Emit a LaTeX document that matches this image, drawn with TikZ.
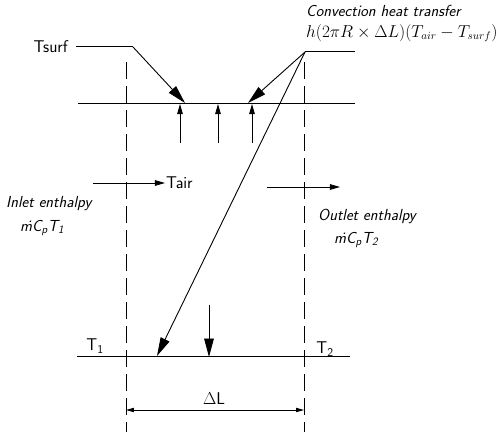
\documentclass[tikz,border=0pt]{standalone}
\usepackage{amsmath}
\usepackage{tikz}
\usetikzlibrary{arrows.meta,positioning,calc}
\tikzset{
  wall/.style={line width=1pt},
  bigarr/.style={-{Triangle[length=6.5mm,width=3.4mm]}, line width=0.9pt},
  smarr/.style={-{Triangle[length=3.6mm,width=2mm]}, line width=0.8pt},
  dimarr/.style={{Triangle[length=2.8mm,width=1.5mm]}-{Triangle[length=2.8mm,width=1.5mm]}, line width=0.8pt},
  guide/.style={dash pattern=on 17pt off 7pt, line width=0.8pt},
  lbl/.style={font=\sffamily\fontsize{17}{19}\selectfont, inner sep=1pt},
  ilbl/.style={font=\sffamily\itshape\fontsize{16}{18}\selectfont, inner sep=0pt},
}

\begin{document}
\begin{tikzpicture}[x=1pt, y=-1pt]
  \useasboundingbox (0,0) rectangle (496,435);

  % labels
  \node[lbl, anchor=east] (tsurf) at (69,47) {Tsurf};
  \node[lbl, anchor=west] (tair) at (165,183) {Tair};
  \node[lbl] (t1) at (95,346) {T\textsubscript{1}};
  \node[lbl] (t2) at (325,349) {T\textsubscript{2}};
  \node[lbl] (dl) at (214,399) {$\Delta$L};
  \node[ilbl, anchor=west] (conv) at (306,11) {Convection heat transfer};
  \node[ilbl, anchor=west] (convf) at (306,33) {$h(2\pi R\times\Delta L)(T_{air}-T_{surf})$};
  \node[ilbl, anchor=west] (inlet) at (6,204) {Inlet enthalpy};
  \node[ilbl, anchor=west] (inletf) at (20,228) {\.{m}C\textsubscript{p}T\textsubscript{1}};
  \node[ilbl, anchor=west] (outlet) at (318,216) {Outlet enthalpy};
  \node[ilbl, anchor=west] (outletf) at (334,240) {\.{m}C\textsubscript{p}T\textsubscript{2}};

  % points
  \coordinate (s1) at (133,47);
  \coordinate (s2) at (185,103);
  \coordinate (c0) at (355,52);
  \coordinate (c1) at (305,52);
  \coordinate (c2) at (248,103);
  \coordinate (c3) at (157,356);
  \coordinate (wl) at (78,104);
  \coordinate (wr) at (355,104);
  \coordinate (bl) at (77,357);
  \coordinate (br) at (350,357);
  \coordinate (gl) at (126,62);
  \coordinate (gr) at (304,62);

  % walls
  \draw[wall] (wl) -- (wr);
  \draw[wall] (bl) -- (br);

  % guides
  \draw[guide] (gl) -- (126,432);
  \draw[guide] (gr) -- (304,432);

  % heat transfer
  \draw[wall] (tsurf.east) ++(7,0) -- (s1);
  \draw[bigarr] (s1) -- (s2);
  \draw[wall] (c0) -- (c1);
  \draw[bigarr] (c1) -- (c2);
  \draw[bigarr] (c1) -- (c3);
  \foreach \x in {180,218,252}
    \draw[smarr] (\x,143) -- (\x,104);
  \draw[bigarr] (209,305) -- (209,357);

  % air flow
  \draw[smarr] (93,183) -- (tair.west);
  \draw[smarr] (267,187) -- (340,187);

  % length
  \draw[dimarr] (126,410) -- (304,410);
\end{tikzpicture}
\end{document}
